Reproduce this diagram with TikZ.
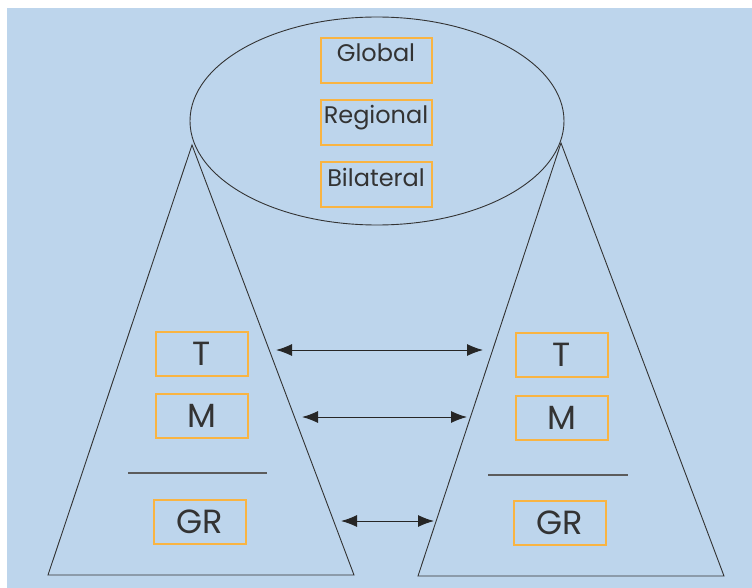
\documentclass[tikz,border=0pt]{standalone}
\usepackage{fontspec}
\setmainfont{Poppins}
\usetikzlibrary{arrows.meta,positioning,shapes.geometric}
\definecolor{skyblue}{HTML}{BDD5EC}
\definecolor{boxorange}{HTML}{F9B442}
\definecolor{inkgray}{HTML}{333333}

\begin{document}
\begin{tikzpicture}[
  x=1pt,y=-1pt,
  node distance=15pt,
  level/.style={draw=boxorange,line width=2pt,inner sep=0pt,minimum width=111pt,text height=24pt,text depth=21pt,font=\fontsize{24}{26}\selectfont,text=inkgray},
  layer/.style={draw=boxorange,line width=2pt,inner sep=0pt,minimum width=92pt,minimum height=44pt,font=\fontsize{33.5}{36}\selectfont,text=inkgray},
  edge/.style={draw=inkgray,line width=0.9pt},
  rule/.style={draw=inkgray!80,line width=1.1pt},
  arrow/.style={{Latex[length=16pt,width=12pt]}-{Latex[length=16pt,width=12pt]},line width=1pt,draw=black!85}
]
\useasboundingbox (0,0) rectangle (752,588);
\fill[white] (0,0) rectangle (752,588);
\fill[skyblue] (7,8) rectangle (752,588);

% forum ellipse
\node[ellipse,edge,minimum width=374pt,minimum height=208pt] (forum) at (377,121) {};
\node[level] (global) at (376,60.5) {Global};
\node[level,below=of global] (regional) {Regional};
\node[level,below=of regional] (bilateral) {Bilateral};

% two pyramids
\coordinate (apexL) at (192,145);
\coordinate (baseLL) at (48,575);
\coordinate (baseLR) at (354,575);
\coordinate (apexR) at (561,143);
\coordinate (baseRL) at (418,576);
\coordinate (baseRR) at (724,576);
\draw[edge] (apexL) -- (baseLL) -- (baseLR) -- cycle;
\draw[edge] (apexR) -- (baseRL) -- (baseRR) -- cycle;

\node[layer] (tL) at (201.5,353.5) {T};
\node[layer,below=16pt of tL] (mL) {M};
\node[layer,below=60pt of mL,xshift=-1.5pt] (grL) {GR};
\draw[rule] (128,473) -- (267,473);

\node[layer] (tR) at (561.5,354.5) {T};
\node[layer,below=17pt of tR] (mR) {M};
\node[layer,below=59pt of mR,xshift=-1.5pt] (grR) {GR};
\draw[rule] (488,475) -- (628,475);

% links between layers
\coordinate (tFrom) at (276,350);
\coordinate (tTo) at (483,350);
\coordinate (mFrom) at (302,417);
\coordinate (mTo) at (467,417);
\coordinate (grFrom) at (341,521);
\coordinate (grTo) at (434,521);
\draw[arrow] (tFrom) -- (tTo);
\draw[arrow] (mFrom) -- (mTo);
\draw[arrow] (grFrom) -- (grTo);
\end{tikzpicture}
\end{document}
